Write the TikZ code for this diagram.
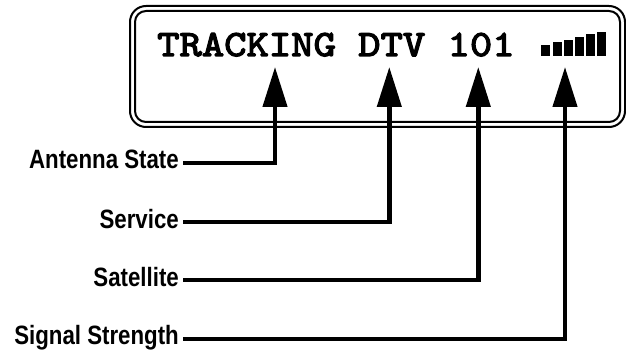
\documentclass[tikz,border=0pt]{standalone}
\usepackage{fontspec}
\usetikzlibrary{arrows.meta}
\newfontfamily\labfont[FakeStretch=0.84]{Liberation Sans}
\newfontfamily\lcdfont[FakeBold=3.5,FakeStretch=1.15]{lmmono10-regular.otf}
\tikzset{
  lcdtext/.style={font=\lcdfont\fontsize{37}{37}\selectfont, inner sep=0pt, anchor=base west},
  labeltext/.style={font=\labfont\bfseries\fontsize{26.5}{26.5}\selectfont, inner sep=0pt, anchor=base east},
  conn/.style={line width=4.4pt, line join=miter, -{Triangle[width=24pt,length=40pt]}},
  frame/.style={line width=2pt},
  bar/.style={fill=black}
}
\begin{document}
\begin{tikzpicture}[x=1pt,y=-1pt]
\useasboundingbox (0,0) rectangle (626,350);
% display frame
\draw[frame, rounded corners=16pt] (130,6) rectangle (625,127);
\draw[frame, rounded corners=11pt] (135,11) rectangle (620,122);
% display text
\node[lcdtext] (disp) at (157,56) {TRACKING DTV 101};
% signal bars
\fill[bar] (541,45)   rectangle (550,56);
\fill[bar] (552.5,41.7) rectangle (561.5,56);
\fill[bar] (564,40)   rectangle (573,56);
\fill[bar] (575,37)   rectangle (584,56);
\fill[bar] (586,34)   rectangle (595,56);
\fill[bar] (597,31.7) rectangle (606,56);
% arrow tips
\coordinate (t1) at (275,67);
\coordinate (t2) at (389.3,67);
\coordinate (t3) at (478.3,67);
\coordinate (t4) at (565,67);
% labels
\node[labeltext] (l1) at (179,168) {Antenna State};
\node[labeltext] (l2) at (179,228) {Service};
\node[labeltext] (l3) at (179,286) {Satellite};
\node[labeltext] (l4) at (179,344) {Signal Strength};
% connectors
\draw[conn] ([xshift=4pt,yshift=5pt]l1.base east) -| (t1);
\draw[conn] ([xshift=4pt,yshift=6pt]l2.base east) -| (t2);
\draw[conn] ([xshift=4pt,yshift=6pt]l3.base east) -| (t3);
\draw[conn] ([xshift=4pt,yshift=5pt]l4.base east) -| (t4);
\end{tikzpicture}
\end{document}
